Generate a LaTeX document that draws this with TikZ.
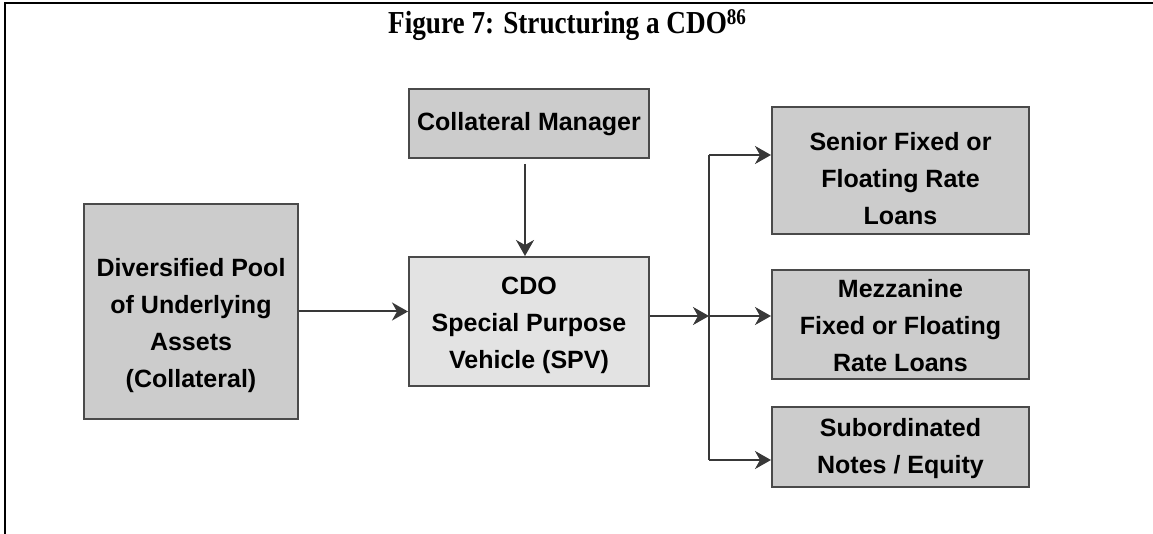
\documentclass[tikz,border=0pt]{standalone}
\usepackage{graphicx}
\usepackage{fontspec}
\setmainfont{Liberation Serif}
\newfontfamily\boxfont{Liberation Sans}
\usetikzlibrary{arrows.meta}
\definecolor{boxgray}{HTML}{CCCCCC}
\definecolor{spvgray}{HTML}{E3E3E3}
\definecolor{edgegray}{HTML}{4A4A4A}
\definecolor{linkgray}{HTML}{383838}
\begin{document}
\begin{tikzpicture}[x=1pt,y=-1pt,
  box/.style={draw=edgegray, line width=2pt, fill=boxgray, inner sep=0pt},
  boxtext/.style={font=\boxfont\bfseries\fontsize{25}{37}\selectfont, align=center, inner sep=0pt},
  link/.style={draw=linkgray, line width=2pt, -{Stealth[length=16pt,width=18pt,inset=5pt]}},
  plain/.style={draw=linkgray, line width=2pt}]
\useasboundingbox (0,0) rectangle (1153,534);

% page frame (top rule and left rule)
\coordinate (fc) at (5,3);
\coordinate (fr) at (1153,3);
\coordinate (fb) at (5,534);
\draw[line width=2.5pt] (fr) -- (fc) -- (fb);

% caption
\node[anchor=base west, inner sep=0pt, font=\bfseries\fontsize{32}{36}\selectfont] (title) at (388,34)
  {\scalebox{0.85}[1]{Figure 7: Structuring a CDO\textsuperscript{86}}};

% boxes
\node[box, minimum width=214, minimum height=215] (pool) at (191,311.5) {};
\node[box, minimum width=240, minimum height=69] (cm) at (529,123.5) {};
\node[box, fill=spvgray, minimum width=240, minimum height=129] (spv) at (529,321.5) {};
\node[box, minimum width=257, minimum height=127] (sen) at (900.5,170.5) {};
\node[box, minimum width=257, minimum height=109] (mez) at (900.5,324.5) {};
\node[box, minimum width=257, minimum height=80] (sub) at (900.5,447) {};

% box labels
\node[boxtext] (poolt) at (191,326) {Diversified Pool\\of Underlying\\Assets\\(Collateral)};
\node[boxtext] (cmt) at (529,124) {Collateral Manager};
\node[boxtext] (spvt) at (529,325.5) {CDO\\Special Purpose\\Vehicle (SPV)};
\node[boxtext] (sent) at (900.5,178.5) {Senior Fixed or\\Floating Rate\\Loans};
\node[boxtext] (mezt) at (900.5,325.5) {Mezzanine\\Fixed or Floating\\Rate Loans};
\node[boxtext] (subt) at (900.5,448.5) {Subordinated\\Notes / Equity};

% branch points on the distribution bus
\coordinate (b1) at (709,155);
\coordinate (b2) at (709,316);
\coordinate (b3) at (709,460);
\coordinate (s2) at (spv.east |- b2);

% connectors
\draw[link] (pool.east) -- (pool.east -| spv.west);
\draw[link, shorten <=5pt] (cm.south -| 525,0) -- (spv.north -| 525,0);
\draw[link] (s2) -- (b2);
\draw[plain] (b1) -- (b3);
\draw[link] (b1) -- (b1 -| sen.west);
\draw[link] (b2) -- (b2 -| mez.west);
\draw[link] (b3) -- (b3 -| sub.west);
\end{tikzpicture}
\end{document}
